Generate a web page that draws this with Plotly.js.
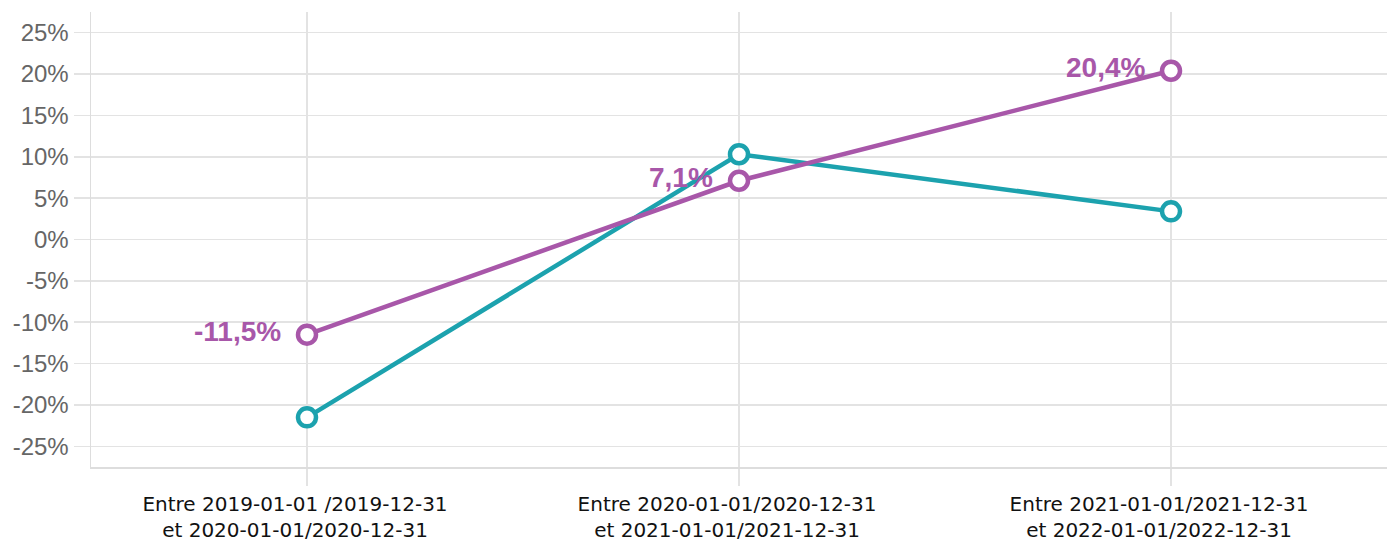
<!DOCTYPE html>
<html>
<head>
<meta charset="utf-8">
<script src="https://cdn.plot.ly/plotly-3.0.1.min.js"></script>
<style>html,body{margin:0;padding:0;background:#fff;}#chart{width:1388px;height:541px;}</style>
</head>
<body>
<div id="chart"></div>
<script>
const categories = [
  "Entre 2019-01-01 /2019-12-31<br>et 2020-01-01/2020-12-31",
  "Entre 2020-01-01/2020-12-31<br>et 2021-01-01/2021-12-31",
  "Entre 2021-01-01/2021-12-31<br>et 2022-01-01/2022-12-31"
];
const tealValues = [-21.5, 10.3, 3.4];
const purpleValues = [-11.5, 7.1, 20.4];
const purpleLabels = ["-11,5%", "7,1%", "20,4%"];
const yTickVals = [-25, -20, -15, -10, -5, 0, 5, 10, 15, 20, 25];
const yTickText = yTickVals.map(v => v + "%");

const teal = "#1ca2ae";
const purple = "#a857a9";

const traces = [
  {
    x: categories, y: tealValues, type: "scatter", mode: "lines+markers",
    line: {color: teal, width: 4.5},
    marker: {symbol: "circle", size: 18, color: "#ffffff", line: {color: teal, width: 4.5}},
    hoverinfo: "none", cliponaxis: false
  },
  {
    x: categories, y: purpleValues, type: "scatter", mode: "lines+markers",
    line: {color: purple, width: 4.5},
    marker: {symbol: "circle", size: 18, color: "#ffffff", line: {color: purple, width: 4.5}},
    hoverinfo: "none", cliponaxis: false
  }
];

const annotations = categories.map((c, i) => ({
  x: c, y: purpleValues[i], xref: "x", yref: "y",
  text: purpleLabels[i], showarrow: false,
  xanchor: "right", yanchor: "middle", xshift: -24, yshift: 3,
  font: {family: "Liberation Sans, Arial, sans-serif", size: 28, color: purple, weight: "bold"}
}));

const layout = {
  width: 1388, height: 541,
  margin: {l: 91, r: 1, t: 12, b: 74},
  paper_bgcolor: "#ffffff", plot_bgcolor: "#ffffff",
  showlegend: false,
  xaxis: {
    type: "category", range: [-0.5, 2.5],
    showgrid: true, gridcolor: "#e3e3e3", gridwidth: 1.5,
    showline: true, linecolor: "#dddddd", linewidth: 1.5,
    ticks: "outside", ticklen: 17, tickcolor: "#e3e3e3", tickwidth: 1.5,
    ticklabelstandoff: 1, ticklabelshift: -12,
    tickfont: {family: "DejaVu Sans, sans-serif", size: 20, color: "#111111"},
    zeroline: false, fixedrange: true
  },
  yaxis: {
    range: [-27.5, 27.5],
    tickvals: yTickVals, ticktext: yTickText,
    showgrid: true, gridcolor: "#e3e3e3", gridwidth: 1.5,
    showline: true, linecolor: "#dddddd", linewidth: 1.5,
    ticks: "outside", ticklen: 16, tickcolor: "#e3e3e3", tickwidth: 1.5,
    tickfont: {family: "Liberation Sans, Arial, sans-serif", size: 24, color: "#666666"},
    zeroline: false, fixedrange: true
  },
  annotations: annotations
};

Plotly.newPlot("chart", traces, layout, {displayModeBar: false, staticPlot: true});
</script>
</body>
</html>
